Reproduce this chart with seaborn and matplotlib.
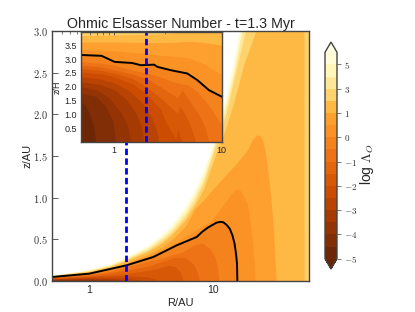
import matplotlib
matplotlib.use('Agg')
import matplotlib.pyplot as plt
from matplotlib.cm import ScalarMappable
from matplotlib.colors import BoundaryNorm, ListedColormap
import seaborn as sns

sns.set_style('ticks')
plt.rcParams.update({
    'font.family': ['Liberation Sans', 'DejaVu Sans'],
    'mathtext.fontset': 'cm',
    'xtick.direction': 'in',
    'ytick.direction': 'in',
    'axes.linewidth': 1.0,
    'axes.edgecolor': '#444444',
})

# DATA
LEVELS = [-5, -4.5, -4, -3.5, -3, -2.5, -2, -1.5, -1, -0.5, 0, 0.5, 1, 2, 3, 4, 5, 6]
CBAR_TICKS = [-5, -4, -3, -2, -1, 0, 1, 3, 5]
PROBE_R = 2

# main panel: (R, z) of each contour level
m_p6 = [(.5, .06), (1, .13), (1.5, .2), (2, .28), (3, .42), (4, .57), (4.7, .67), (6, .88), (7.2, 1.09), (8.5, 1.33), (9.8, 1.57), (11.5, 1.93), (13, 2.25), (15, 2.68), (16.5, 3.0), (20, 3.7), (60, 11)]
m_p5 = [(.5, .059), (1, .125), (1.5, .19), (2, .27), (3, .4), (4, .54), (4.7, .64), (6, .84), (7.2, 1.04), (8.5, 1.27), (10, 1.58), (13, 2.16), (15, 2.56), (17, 3.0), (20, 3.55), (60, 11)]
m_p4 = [(.5, .058), (1, .12), (1.5, .185), (2, .26), (3, .385), (4, .52), (4.7, .61), (6, .8), (7.2, 1.0), (8.5, 1.22), (10, 1.54), (13, 2.1), (15, 2.5), (17.5, 3.0), (20, 3.45), (60, 11)]
m_p3 = [(.5, .056), (1, .113), (1.5, .175), (2, .25), (3, .365), (4, .49), (4.7, .58), (6, .76), (7.2, .95), (8.5, 1.17), (10.4, 1.57), (13, 2.02), (15, 2.42), (18.6, 3.0), (22, 3.5), (60, 11)]
m_p2 = [(.5, .054), (1, .106), (1.5, .165), (2, .235), (3, .345), (4, .46), (4.7, .55), (6, .72), (7.2, .9), (8.5, 1.1), (11, 1.57), (13, 1.85), (15, 2.15), (18, 2.6), (22.6, 3), (26, 3.5), (54.9, 12), (55.3, 0)]
m_p1 = [(.5, .052), (1, .1), (1.5, .15), (2, .215), (3, .32), (4, .42), (4.7, .5), (6, .66), (7.2, .87), (8.5, .98), (10.4, 1.13), (13.2, 1.3), (15.3, 1.4), (19, 1.57), (21, 1.7), (22.5, 1.75), (24, 1.75), (25.5, 1.68), (27, 1.5), (28, 1.3), (29.5, 1.0), (31, .6), (32, .2), (32.6, 0)]
m_p05 = [(.5, .05), (1, .094), (1.5, .14), (2, .2), (3, .29), (4, .38), (5, .46), (6, .53), (7.2, .61), (9.8, .73), (13, .97), (14, 1.04), (15, 1.09), (15.9, 1.1), (16.8, 1.08), (18, 1.0), (19, .93), (20, .72), (21, .45), (21.7, .2), (22, 0)]
m_0 = [(.5, .048), (1, .088), (2, .188), (3.3, .288), (5.1, .428), (7.4, .528), (8.2, .59), (9.1, .64), (10.7, .70), (11.5, .71), (12.2, .704), (13, .67), (13.7, .628), (14.4, .55), (15, .448), (15.4, .33), (15.7, .208), (15.8, 0)]
m_m05 = [(.5, .044), (1, .08), (1.5, .115), (2, .168), (2.7, .216), (3.9, .276), (5.7, .35), (7, .43), (8.2, .456), (9.3, .4), (10.4, .29), (10.9, .15), (11.2, 0)]
m_m1 = [(.5, .04), (1, .07), (1.5, .1), (2, .13), (3, .18), (4, .24), (5, .285), (6, .28), (7, .2), (7.5, .1), (7.8, 0)]
m_m15 = [(.5, .036), (1, .06), (1.5, .075), (2, .09), (3, .13), (3.6, .15), (4.3, .19), (5, .17), (5.5, .1), (5.7, 0)]
m_m2 = [(.5, .03), (1, .05), (2, .065), (3, .05), (3.8, 0)]
m_m25 = [(.5, .025), (1, .04), (2, .035), (2.9, 0)]
m_m3 = [(.5, .02), (1, .03), (1.7, .02), (2.2, 0)]
m_m35 = [(.5, .015), (1, .02), (1.4, .01), (1.7, 0)]
m_m4 = [(.5, .01), (.8, .01), (1, .008), (1.2, 0)]
m_m45 = [(.5, .007), (.7, .004), (.85, 0)]

# inset: (R, z/H) of each contour level
i_p2 = [(.5, 3.86), (1, 3.88), (2, 3.9), (3, 3.92), (5, 4.0), (10, 4.2)]
i_p1 = [(.5, 3.62), (1, 3.62), (2, 3.6), (3.4, 3.6), (5, 3.65), (7, 3.6), (8.5, 3.55), (10, 3.5)]
i_p05 = [(.5, 3.35), (1, 3.3), (2, 3.2), (3.4, 3.1), (5, 3.05), (7, 2.8), (8.5, 2.6), (10, 2.45)]
i_0 = [(.5, 3.15), (.77, 3.12), (1.02, 2.9), (1.48, 2.86), (1.78, 2.78), (2.36, 2.8), (2.54, 2.72), (3.37, 2.6), (4.8, 2.48), (5.95, 2.24), (7.6, 1.88), (10, 1.64)]
i_m05 = [(.5, 2.9), (.75, 2.85), (1, 2.78), (1.5, 2.6), (2, 2.5), (2.7, 2.35), (3.4, 2.2), (4.3, 2.1), (5, 2.05), (6, 1.8), (7, 1.5), (8, 1.2), (9, .9), (10, .6)]
i_m1 = [(.5, 2.78), (.75, 2.72), (1, 2.62), (1.5, 2.45), (2, 2.3), (2.7, 2.0), (3.4, 1.75), (3.9, 1.6), (4.3, 1.88), (5, 1.5), (6, 1.05), (7, .55), (7.6, 0)]
i_m15 = [(.5, 2.66), (.75, 2.6), (1, 2.5), (1.5, 2.3), (2, 2.0), (2.7, 1.6), (3.4, 1.25), (3.9, 1.05), (4.1, 1.3), (4.5, 1.05), (5, .7), (5.5, .25), (5.7, 0)]
i_m2 = [(.5, 2.54), (.75, 2.47), (1, 2.37), (1.5, 2.1), (2, 1.75), (2.7, 1.2), (3.0, .75), (3.5, .3), (3.75, .1), (3.95, .5), (4.15, .1), (4.3, 0)]
i_m25 = [(.5, 2.36), (.75, 2.28), (1, 2.15), (1.4, 1.85), (1.9, 1.35), (2.3, .8), (2.5, .4), (2.6, 0)]
i_m3 = [(.5, 2.18), (.75, 2.08), (1, 1.9), (1.3, 1.55), (1.6, 1.05), (1.8, .55), (1.9, 0)]
i_m35 = [(.5, 2.0), (.7, 1.88), (.9, 1.6), (1.2, 1.0), (1.35, .55), (1.43, 0)]
i_m4 = [(.5, 1.76), (.68, 1.65), (.84, 1.3), (.98, .75), (1.04, 0)]
i_m45 = [(.5, 1.455), (.55, 1.3), (.6, 1.0), (.65, .55), (.68, 0)]

# upper level of each band -> contour, from the outside in
main_bands = [(6, m_p6), (5, m_p5), (4, m_p4), (3, m_p3), (2, m_p2), (1, m_p1), (.5, m_p05), (0, m_0), (-.5, m_m05), (-1, m_m1),
              (-1.5, m_m15), (-2, m_m2), (-2.5, m_m25), (-3, m_m3), (-3.5, m_m35), (-4, m_m4), (-4.5, m_m45)]
inset_bands = [(2, i_p2), (1, i_p1), (.5, i_p05), (0, i_0), (-.5, i_m05), (-1, i_m1), (-1.5, i_m15), (-2, i_m2),
               (-2.5, i_m25), (-3, i_m3), (-3.5, i_m35), (-4, i_m4), (-4.5, i_m45)]

cmap = sns.color_palette('YlOrBr_r', as_cmap=True)
band_colors = {hi: cmap(((lo + hi) / 2 + 5) / 11) for lo, hi in zip(LEVELS[:-1], LEVELS[1:])}
SPINE = '#444444'


def draw_bands(ax, bands):
    for hi, pts in bands:
        ax.fill_between([p[0] for p in pts], [p[1] for p in pts], 0, color=band_colors[hi], linewidth=0)


def black_line(ax, pts):
    sns.lineplot(x=[p[0] for p in pts], y=[p[1] for p in pts], ax=ax, color='black', linewidth=1.4,
                 sort=False, estimator=None, legend=False)


def blue_line(ax, top):
    sns.lineplot(x=[PROBE_R, PROBE_R], y=[0, top], ax=ax, color='#0000ff', linewidth=2.0,
                 linestyle=(0, (2.3, 1.2)), sort=False, estimator=None, legend=False)


def log_axis(ax, xmax):
    ax.set_xscale('log')
    ax.set_xlim(0.5, xmax)
    ax.set_xticks([1, 10])
    ax.set_xticklabels(['1', '10'])
    ax.tick_params(which='both', top=True, right=True, color=SPINE)
    ax.tick_params(which='major', length=4, width=0.6)
    ax.tick_params(which='minor', length=2, width=0.5)
    ax.minorticks_on()
    ax.yaxis.set_tick_params(which='minor', left=False, right=False)


W, H = 415, 312
fig = plt.figure(figsize=(W / 100, H / 100), dpi=100)

# main panel
ax = fig.add_axes([52 / W, (H - 281) / H, 257 / W, 250 / H])
draw_bands(ax, main_bands)
black_line(ax, m_0)
blue_line(ax, 3)
log_axis(ax, 60)
ax.set_ylim(0, 3)
ax.set_yticks([0, .5, 1, 1.5, 2, 2.5, 3])
ax.set_yticklabels([f'${v:.1f}$' for v in [0, .5, 1, 1.5, 2, 2.5, 3]], color='#333333')
ax.tick_params(axis='x', labelsize=7.5, pad=3)
ax.tick_params(axis='y', labelsize=7.5, pad=3)
ax.set_xlabel('R/AU', fontsize=8, labelpad=2)
ax.set_ylabel('z/AU', fontsize=8, labelpad=0)
ax.set_title('Ohmic Elsasser Number - t=1.3 Myr', fontsize=10.3, pad=2)

# inset
axi = fig.add_axes([81.3 / W, (H - 142) / H, 140.4 / W, 110.5 / H])
axi.set_facecolor(band_colors[3])
draw_bands(axi, inset_bands)
black_line(axi, i_0)
blue_line(axi, 4)
log_axis(axi, 10)
axi.set_ylim(0, 4)
axi.set_yticks([.5, 1, 1.5, 2, 2.5, 3, 3.5])
axi.set_yticklabels(['0.5', '1.0', '1.5', '2.0', '2.5', '3.0', '3.5'])
axi.tick_params(axis='both', labelsize=6.5, pad=3)
axi.set_ylabel('z/H', fontsize=6.5, labelpad=2)

# colorbar
cax = fig.add_axes([325 / W, (H - 269) / H, 12 / W, 227 / H])
bar_cmap = ListedColormap([band_colors[hi] for hi in LEVELS[1:]])
bar_cmap.set_under(cmap(0.0))
bar_cmap.set_over(cmap(1.0))
sm = ScalarMappable(norm=BoundaryNorm(LEVELS, bar_cmap.N), cmap=bar_cmap)
cbar = fig.colorbar(sm, cax=cax, extend='both', spacing='uniform', ticks=CBAR_TICKS)
cbar.ax.minorticks_off()
cbar.ax.set_yticklabels([f'${v}$' for v in CBAR_TICKS], color='#333333')
cbar.ax.tick_params(labelsize=6.5, length=3, width=0.5, direction='out', pad=2, color=SPINE)
cbar.outline.set_linewidth(1.0)
cbar.set_label(r'log $\Lambda_O$', fontsize=10)
cbar.ax.yaxis.set_label_coords(2.75, 0.46)

fig.savefig('out.png', dpi=100)
